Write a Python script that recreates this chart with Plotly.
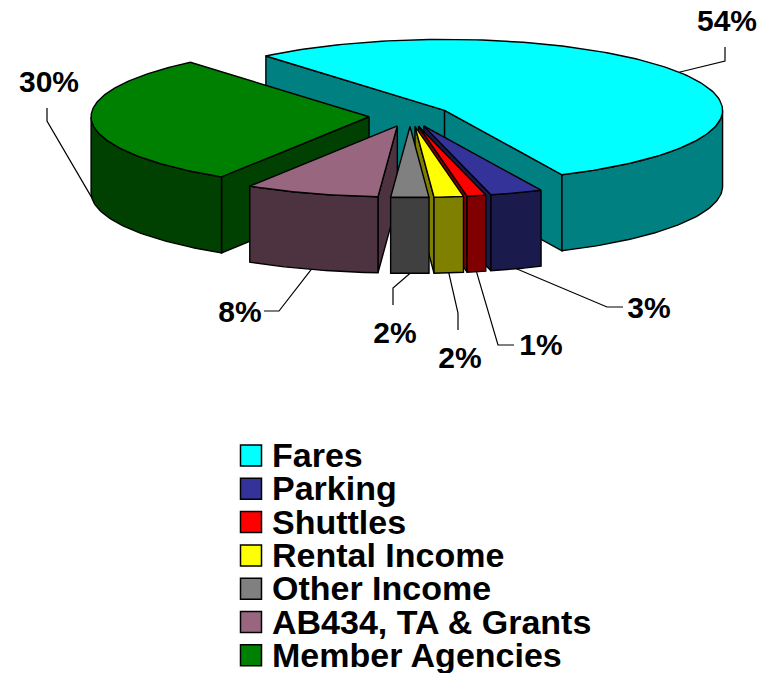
import numpy as np
import plotly.graph_objects as go

# ---- data ----
categories = ["Fares", "Parking", "Shuttles", "Rental Income", "Other Income",
              "AB434, TA & Grants", "Member Agencies"]
shares = [54.2, 3.05, 1.1, 1.7, 2.2, 7.8, 30.0]

# ---- styles ----
top_colors = ["#00FFFF", "#333399", "#FF0000", "#FFFF00", "#808080", "#996680", "#008000"]
side_colors = ["#008080", "#1A1A4D", "#800000", "#808000", "#404040", "#4D3340", "#004000"]
draw_order = [0, 6, 5, 1, 2, 3, 4]   # back to front

# ---- pie projection (pixels of the 773x673 page) ----
CX, CY = 410.0, 116.0
RX, RY = 278.0, 71.0
DEPTH = 76.0
EXPLODE = 41.0 / RX
START = 320.0
EDGE = dict(color="black", width=1.4)
PAGE_MARGIN = 8   # the page body adds this much around the figure

# label centre, then the elbows of the leader line from the rim to that label
label_xy = [(727, 23), (649, 310), (541, 347), (460, 360), (395, 335), (240, 314), (49, 84)]
elbows = [
    [(725, 61), (725, 47)],
    [(607, 307), (623, 307)],
    [(498, 345), (514, 345)],
    [(458, 313), (458, 330)],
    [(393, 288), (393, 305)],
    [(279, 311), (264, 311)],
    [(47, 121), (47, 108)],
]
LEG_X, LEG_Y0, LEG_DY = 251, 455.5, 33.3
LEG_TEXT_DX, LEG_TEXT_DY = 21, 3


def point(apex, deg, dz=0.0):
    a = np.radians(deg)
    return apex[0] + RX * np.sin(a), apex[1] - RY * np.cos(a) + dz


def poly(xs, ys, color):
    return go.Scatter(x=list(xs), y=list(ys), mode="lines", fill="toself", fillcolor=color,
                      line=EDGE, hoverinfo="skip", showlegend=False)


total = sum(shares)
spans = [s / total * 360.0 for s in shares]
starts = START + np.concatenate([[0], np.cumsum(spans)[:-1]])
fig = go.Figure()
leader_starts = {}

for i in draw_order:
    a0, a1 = starts[i], starts[i] + spans[i]
    mid = np.radians((a0 + a1) / 2)
    apex = (CX + EXPLODE * RX * np.sin(mid), CY - EXPLODE * RY * np.cos(mid))
    # leader line starting point: rim middle, on the bottom edge for front slices
    front = np.cos(mid) < 0 or abs(np.sin(mid)) > 0.99
    leader_starts[i] = point(apex, (a0 + a1) / 2, DEPTH if front else 0.0)
    # cut faces that look toward the viewer
    visible = []
    if np.sin(np.radians(a0)) < 0:
        visible.append(a0)
    if np.sin(np.radians(a1)) > 0:
        visible.append(a1)
    for a in visible:
        px, py = point(apex, a)
        fig.add_trace(poly([apex[0], px, px, apex[0], apex[0]],
                           [apex[1], py, py + DEPTH, apex[1] + DEPTH, apex[1]], side_colors[i]))
    # outer wall (front half of the rim only)
    for k in (0, 360):
        w0, w1 = max(a0, 90 + k), min(a1, 270 + k)
        if w1 > w0:
            t = np.linspace(w0, w1, 60)
            x, y = point(apex, t)
            fig.add_trace(poly(np.r_[x, x[::-1], x[0]], np.r_[y, y[::-1] + DEPTH, y[0]], side_colors[i]))
    # top face
    t = np.linspace(a0, a1, 160)
    x, y = point(apex, t)
    fig.add_trace(poly(np.r_[apex[0], x, apex[0]], np.r_[apex[1], y, apex[1]], top_colors[i]))

# leader lines
for i, bends in enumerate(elbows):
    pts = [leader_starts[i]] + bends
    fig.add_trace(go.Scatter(x=[p[0] for p in pts], y=[p[1] for p in pts], mode="lines",
                             line=dict(color="black", width=1.2), hoverinfo="skip", showlegend=False))

# percentage labels
fig.add_trace(go.Scatter(x=[p[0] for p in label_xy], y=[p[1] for p in label_xy], mode="text",
                         text=[f"{round(s / total * 100)}%" for s in shares],
                         textposition="middle center", hoverinfo="skip", showlegend=False,
                         cliponaxis=False,
                         textfont=dict(family="Liberation Sans", size=30, color="black", weight="bold")))

# legend
rows = [LEG_Y0 + LEG_DY * k for k in range(len(categories))]
fig.add_trace(go.Scatter(x=[LEG_X] * len(rows), y=rows, mode="markers", hoverinfo="skip", showlegend=False,
                         marker=dict(symbol="square", size=21, color=top_colors,
                                     line=dict(color="black", width=1.5))))
fig.add_trace(go.Scatter(x=[LEG_X + LEG_TEXT_DX] * len(rows), y=[r + LEG_TEXT_DY for r in rows],
                         mode="text", text=categories, cliponaxis=False,
                         textposition="middle right", hoverinfo="skip", showlegend=False,
                         textfont=dict(family="Liberation Sans", size=34, color="black", weight="bold")))

fig.update_layout(
    width=773 - PAGE_MARGIN, height=673 - PAGE_MARGIN, margin=dict(l=0, r=0, t=0, b=0),
    paper_bgcolor="white", plot_bgcolor="white", showlegend=False,
    xaxis=dict(range=[PAGE_MARGIN, 773], visible=False, fixedrange=True),
    yaxis=dict(range=[673, PAGE_MARGIN], visible=False, fixedrange=True),
)
fig.write_html("out.html", config={"displayModeBar": False})
